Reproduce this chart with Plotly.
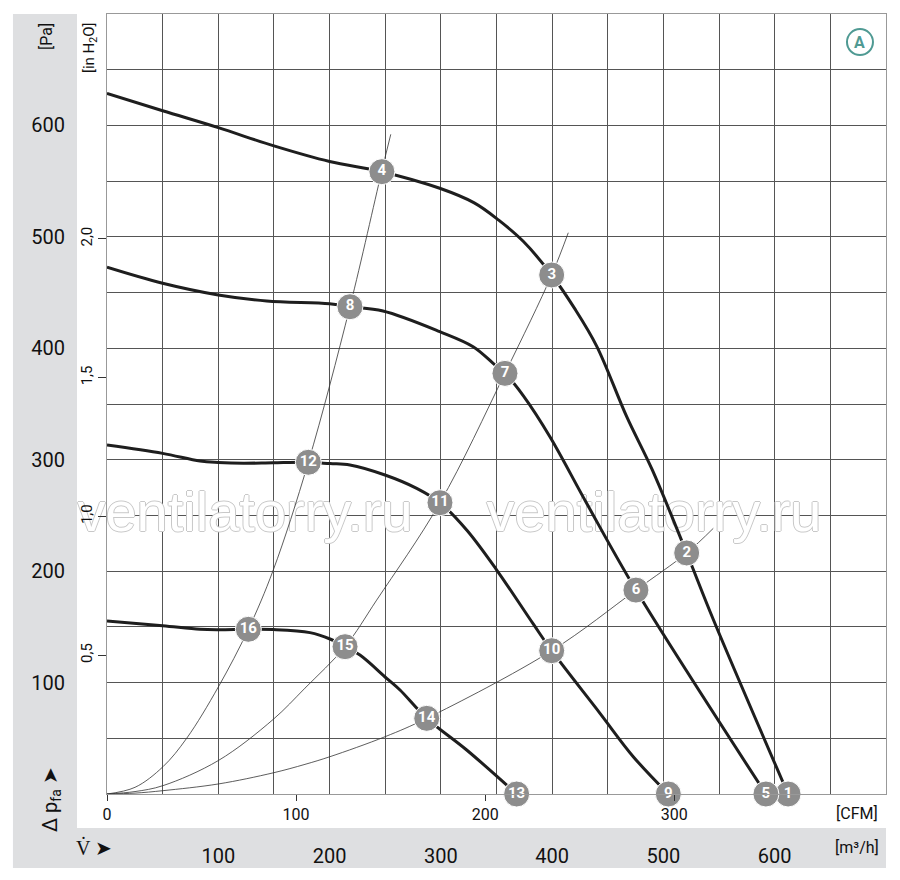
import plotly.graph_objects as go

PA_PER_INH2O = 249.089
M3H_PER_CFM = 1.699

FONT = "Roboto"
CURVE = "#1e1e1e"
GRID = "#555555"
PANEL = "#dedfe1"
TEAL = "#4f9a93"

# fan characteristic curves, flow [m3/h] / static pressure [Pa]
q_n1 = [0, 50, 100, 150, 200, 247, 299, 330, 352, 374, 399.6, 420, 440, 467, 490, 520.9, 545, 612]
p_n1 = [628.8, 613.2, 598, 581.6, 567.6, 558.5, 543.6, 530.5, 515, 496, 465.8, 436, 402, 338.6, 290.8, 216.3, 156.2, 0]

q_n2 = [0, 50, 100, 143.5, 200, 218.3, 248, 299, 329, 347, 357.6, 374, 398, 431, 475.3, 592.1]
p_n2 = [472.7, 458.3, 447.8, 442.4, 439.9, 437.3, 433.4, 414.9, 401.4, 386.5, 377.5, 357.5, 320.6, 260.9, 183, 0]

q_n3 = [0, 50, 83.6, 100, 122.5, 149.4, 180.9, 200.4, 218.3, 249.8, 278.3, 299.2, 323.2, 350.2, 383, 399.6, 443, 472.9, 504.4]
p_n3 = [313.2, 305.7, 298.8, 297.5, 296.8, 297.3, 297.7, 296.5, 295.3, 286.3, 274.3, 261.4, 236.9, 201, 152.6, 128.6, 72.4, 33.5, 0]

q_n4 = [0, 50, 83.6, 100, 127, 149.4, 182.4, 200.4, 213.9, 227.3, 251.3, 263.3, 287.3, 323.2, 368.1]
p_n4 = [155.3, 151, 147.8, 147.4, 147.8, 147.6, 144.8, 139.1, 132.2, 124.7, 103.8, 93.3, 67.9, 39.5, 0]

# system resistance curves
q_s1 = [0, 25.2, 50.3, 71.6, 100, 127, 149.4, 180.9, 218.3, 246.8, 255]
p_s1 = [0, 6, 24.5, 50, 96, 147.8, 201, 297.7, 437.3, 558.5, 592]

q_s2 = [0, 25.2, 50.3, 100, 149.4, 177.9, 213.9, 242.3, 299.2, 357.6, 399.6, 414.5]
p_s2 = [0, 2.2, 7.5, 30, 67, 95, 132.2, 174, 261.4, 377.5, 465.8, 503.7]

q_s3 = [0, 25.2, 50.3, 100, 149.4, 177.9, 200.4, 249.8, 287.3, 399.6, 475.3, 520.9, 544.8]
p_s3 = [0, 0.8, 3, 9, 19, 26.6, 33.5, 51.4, 67.9, 128.6, 183, 216.3, 238.4]

# numbered operating points
pt_num = list(range(1, 17))
pt_q = [612, 520.9, 399.6, 247, 592.1, 475.3, 357.6, 218.3, 504.4, 399.6, 299.2, 180.9, 368.1, 287.3, 213.9, 127]
pt_p = [0, 216.3, 465.8, 558.5, 0, 183, 377.5, 437.3, 0, 128.6, 261.4, 297.7, 0, 67.9, 132.2, 147.8]

m3h_ticks = [100, 200, 300, 400, 500, 600]
cfm_ticks = [0, 100, 200, 300]
pa_ticks = [100, 200, 300, 400, 500, 600]
inh2o_ticks = [0.5, 1.0, 1.5, 2.0]
inh2o_text = ["0,5", "1,0", "1,5", "2,0"]

fig = go.Figure()

# watermark first so the curves sit on top of it
fig.add_trace(go.Scatter(
    x=[124, 491.5], y=[248.6, 248.6], mode="text",
    text=["ventilatorry.ru", "ventilatorry.ru"],
    textfont=dict(family="Liberation Sans", size=56, color="white",
                  shadow="1px 0 0 #c8c8c8, -1px 0 0 #c8c8c8, 0 1px 0 #c8c8c8, 0 -1px 0 #c8c8c8"),
    cliponaxis=False, hoverinfo="skip", showlegend=False))

for q, p in [(q_s1, p_s1), (q_s2, p_s2), (q_s3, p_s3)]:
    fig.add_trace(go.Scatter(x=q, y=p, mode="lines", line=dict(color="#333", width=0.8, shape="spline", smoothing=1),
                             hoverinfo="skip", showlegend=False))

for q, p in [(q_n1, p_n1), (q_n2, p_n2), (q_n3, p_n3), (q_n4, p_n4)]:
    fig.add_trace(go.Scatter(x=q, y=p, mode="lines", line=dict(color=CURVE, width=3, shape="spline", smoothing=1),
                             hoverinfo="skip", showlegend=False))

fig.add_trace(go.Scatter(
    x=pt_q, y=pt_p, mode="markers+text", text=[str(n) for n in pt_num],
    textposition="middle center",
    textfont=dict(family=FONT, size=15, color="white", weight=700),
    marker=dict(size=26, color="#8d8d8d", line=dict(color="white", width=1)),
    cliponaxis=False, hoverinfo="skip", showlegend=False))

# empty traces so the secondary CFM and inH2O scales get drawn
fig.add_trace(go.Scatter(x=[0], y=[0], xaxis="x2", yaxis="y", mode="lines", hoverinfo="skip", showlegend=False))
fig.add_trace(go.Scatter(x=[0], y=[0], xaxis="x", yaxis="y2", mode="lines", hoverinfo="skip", showlegend=False))

fig.update_layout(
    width=900, height=880, template="none",
    margin=dict(l=99, r=22, t=6, b=94),
    paper_bgcolor="white", plot_bgcolor="white",
    font=dict(family=FONT, color="#111"),
    xaxis=dict(range=[0, 700], tickvals=m3h_ticks, ticktext=[str(v) for v in m3h_ticks],
               ticks="", ticklabelstandoff=44, tickfont=dict(size=20),
               showgrid=True, gridcolor=GRID, gridwidth=1,
               minor=dict(dtick=50, showgrid=True, gridcolor=GRID, gridwidth=1),
               showline=True, linecolor="#999", mirror=True, zeroline=False, automargin=False),
    xaxis2=dict(range=[0, 700], overlaying="x", anchor="y", side="bottom",
                tickvals=[c * M3H_PER_CFM for c in cfm_ticks], ticktext=[str(c) for c in cfm_ticks],
                ticks="outside", ticklen=6, tickcolor="#333", tickfont=dict(size=16),
                showgrid=False, showline=False, zeroline=False, automargin=False),
    yaxis=dict(range=[0, 700], tickvals=pa_ticks, ticktext=[str(v) for v in pa_ticks],
               ticks="", ticklabelstandoff=37, tickfont=dict(size=20),
               showgrid=True, gridcolor=GRID, gridwidth=1,
               minor=dict(dtick=50, showgrid=True, gridcolor=GRID, gridwidth=1),
               showline=True, linecolor="#999", mirror=True, zeroline=False, automargin=False),
    yaxis2=dict(range=[0, 700 / PA_PER_INH2O], overlaying="y", anchor="x", side="left",
                tickvals=inh2o_ticks, ticktext=inh2o_text, tickangle=-90,
                ticks="outside", ticklen=8, tickcolor="#333", tickfont=dict(size=15),
                showgrid=False, showline=False, zeroline=False, automargin=False),
)

# grey label panels
fig.add_shape(type="rect", xref="paper", yref="paper", x0=-0.1207, x1=-0.0385, y0=-0.0949, y1=1.0,
              fillcolor=PANEL, line_width=0, layer="below")
fig.add_shape(type="rect", xref="paper", yref="paper", x0=-0.1207, x1=1.0, y0=-0.0949, y1=-0.0436,
              fillcolor=PANEL, line_width=0, layer="below")

# curve set marker "A"
fig.add_shape(type="circle", xref="paper", yref="paper", xsizemode="pixel", ysizemode="pixel",
              xanchor=0.9666, yanchor=0.964, x0=-13, x1=13, y0=-13, y1=13,
              line=dict(color=TEAL, width=2))
fig.add_annotation(x=0.9666, y=0.964, xref="paper", yref="paper", text="<b>A</b>", showarrow=False,
                   font=dict(size=16, color=TEAL), xanchor="center", yanchor="middle")

labels = [
    ("[Pa]", -0.0783, 0.9705, 16, -90),
    ("[in H<sub>2</sub>O]", -0.0218, 0.9564, 15, -90),
    ("Δ p<sub>fa</sub> ➤", -0.0719, -0.0064, 20, -90),
    ("V̇ ➤", -0.0167, -0.0692, 20, 0),
    ("[CFM]", 0.9628, -0.0244, 16, 0),
    ("[m³/h]", 0.9628, -0.0692, 16, 0),
]
for txt, x, y, size, ang in labels:
    fig.add_annotation(x=x, y=y, xref="paper", yref="paper", text=txt, showarrow=False,
                       textangle=ang, font=dict(size=size, color="#111"),
                       xanchor="center", yanchor="middle")

fig.write_html("out.html")
